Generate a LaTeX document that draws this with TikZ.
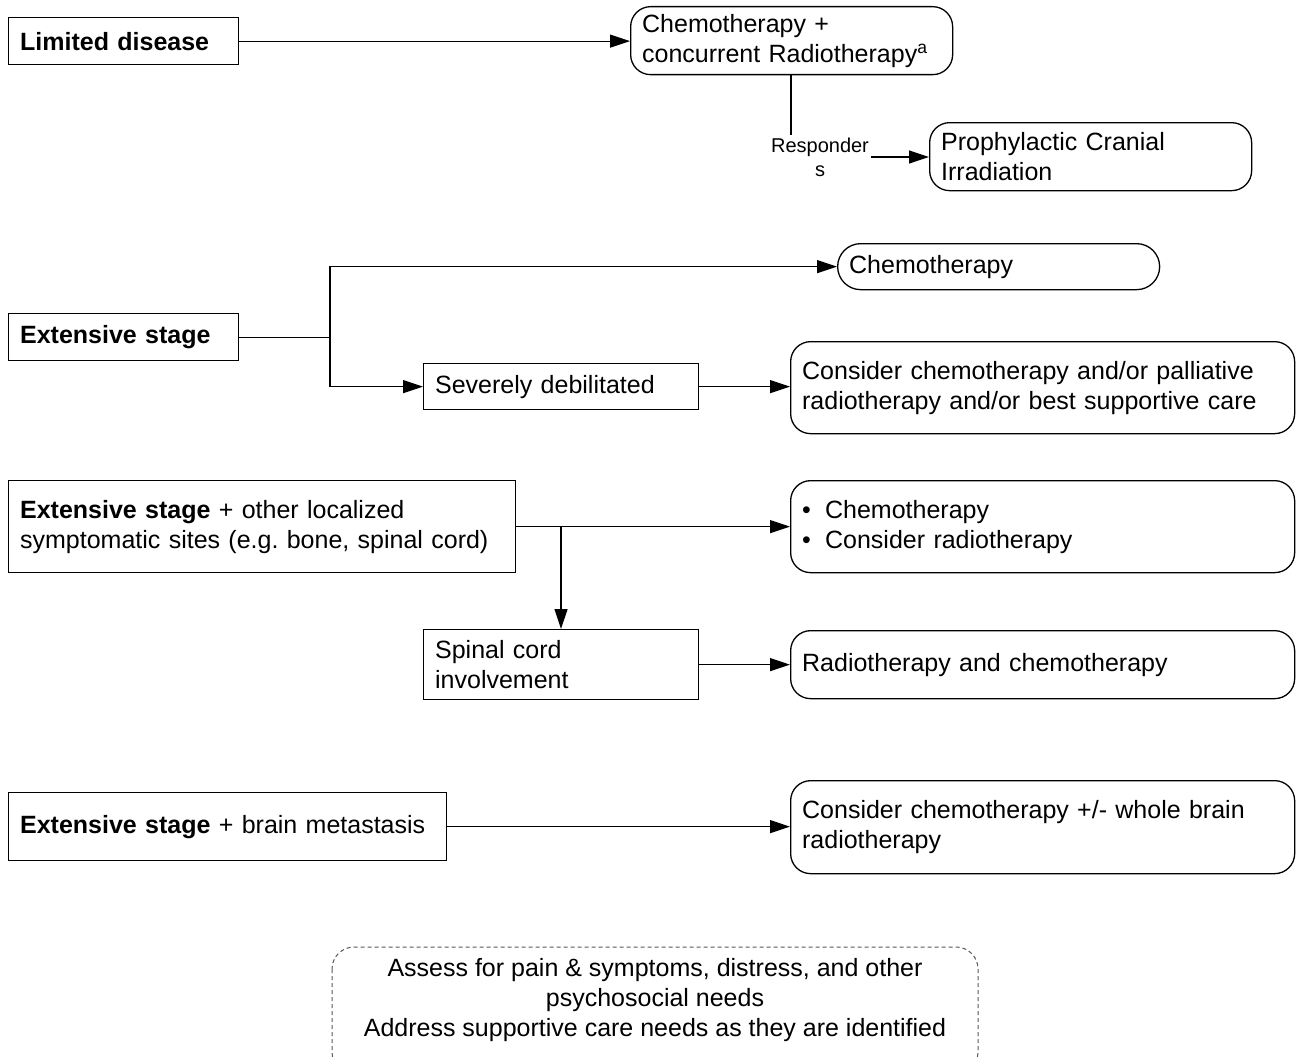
\documentclass[tikz,border=0pt]{standalone}
\usepackage{fontspec}
\setmainfont{Liberation Sans}
\usetikzlibrary{arrows.meta}
\frenchspacing

\begin{document}
\begin{tikzpicture}[x=1pt,y=-1pt,
  every node/.style={font=\fontsize{25}{30}\selectfont},
  box/.style={draw, line width=1.3pt, inner xsep=11.5pt, inner ysep=0pt,
    anchor=north west, align=left},
  rbox/.style={box, rounded corners=20pt},
  sz/.style n args={3}{minimum width=#1pt, minimum height=#2pt, text width=#3pt},
  line/.style={line width=1.2pt},
  link/.style={line width=1.2pt, -{Triangle[length=20pt,width=13pt]}},
  note/.style={draw, line width=1pt, dash pattern=on 4pt off 3pt,
    rounded corners=22pt, gray!70!black}
]
% page frame
\clip (0,0) rectangle (1296,1057);
\fill[white] (0,0) rectangle (1296,1057);

% limited disease
\node[box, sz={230}{47}{207}] (ld) at (8,17) {\textbf{Limited disease}};
\node[rbox, sz={322}{68}{299}] (c1) at (630,6)
  {Chemotherapy +\\concurrent Radiotherapy\textsuperscript{a}};
\node[font=\fontsize{20}{24}\selectfont, align=center, inner sep=2pt] (resp)
  at (820,157) {Responder\\s};
\node[rbox, sz={322}{68}{299}] (pci) at (929,122)
  {Prophylactic Cranial\\Irradiation};

% extensive stage
\node[box, sz={230}{47}{207}] (es) at (8,313) {\textbf{Extensive stage}};
\node[rbox, rounded corners=23pt, sz={322}{46}{299}] (chemo) at (837,243)
  {Chemotherapy};
\node[box, sz={275}{46}{252}] (sev) at (423,363) {Severely debilitated};
\node[rbox, sz={504}{92}{481}] (cons1) at (790,341)
  {Consider chemotherapy and/or palliative\\radiotherapy and/or best supportive care};

% extensive stage with localized symptomatic sites
\node[box, sz={507}{92}{484}] (eso) at (8,480)
  {\textbf{Extensive stage} + other localized\\symptomatic sites (e.g. bone, spinal cord)};
\node[rbox, sz={504}{92}{481}] (bul) at (790,480)
  {\makebox[23pt][l]{\textbullet}Chemotherapy\\
   \makebox[23pt][l]{\textbullet}Consider radiotherapy};
\node[box, sz={275}{70}{252}] (spc) at (423,629) {Spinal cord\\involvement};
\node[rbox, sz={504}{68}{481}] (rtc) at (790,630) {Radiotherapy and chemotherapy};

% extensive stage with brain metastasis
\node[box, sz={438}{68}{415}] (esb) at (8,792)
  {\textbf{Extensive stage} + brain metastasis};
\node[rbox, sz={504}{93}{481}] (cons2) at (790,780)
  {Consider chemotherapy +/- whole brain\\radiotherapy};

% supportive care note
\node[align=center, inner sep=0pt] (care) at (655,1000)
  {Assess for pain \& symptoms, distress, and other\\psychosocial needs\\
   Address supportive care needs as they are identified};
\draw[note] (332,947) rectangle (978,1074);

% connectors
\coordinate (tap) at (791,0);
\coordinate (br) at (330,0);
\coordinate (drop) at (561,0);

\draw[link] (ld.east) -- (ld.east -| c1.west);
\draw[line] (c1.south -| tap) -- (resp.north -| tap);
\draw[link] (resp.east) -- (resp.east -| pci.west);

\draw[line] (es.east) -- (es.east -| br);
\draw[link] (es.east -| br) |- (chemo.west);
\draw[link] (es.east -| br) |- (sev.west);
\draw[link] (sev.east) -- (sev.east -| cons1.west);

\draw[link] (eso.east) -- (eso.east -| bul.west);
\draw[link] (eso.east -| drop) -- (spc.north -| drop);
\draw[link] (spc.east) -- (spc.east -| rtc.west);

\draw[link] (esb.east) -- (esb.east -| cons2.west);
\end{tikzpicture}
\end{document}
